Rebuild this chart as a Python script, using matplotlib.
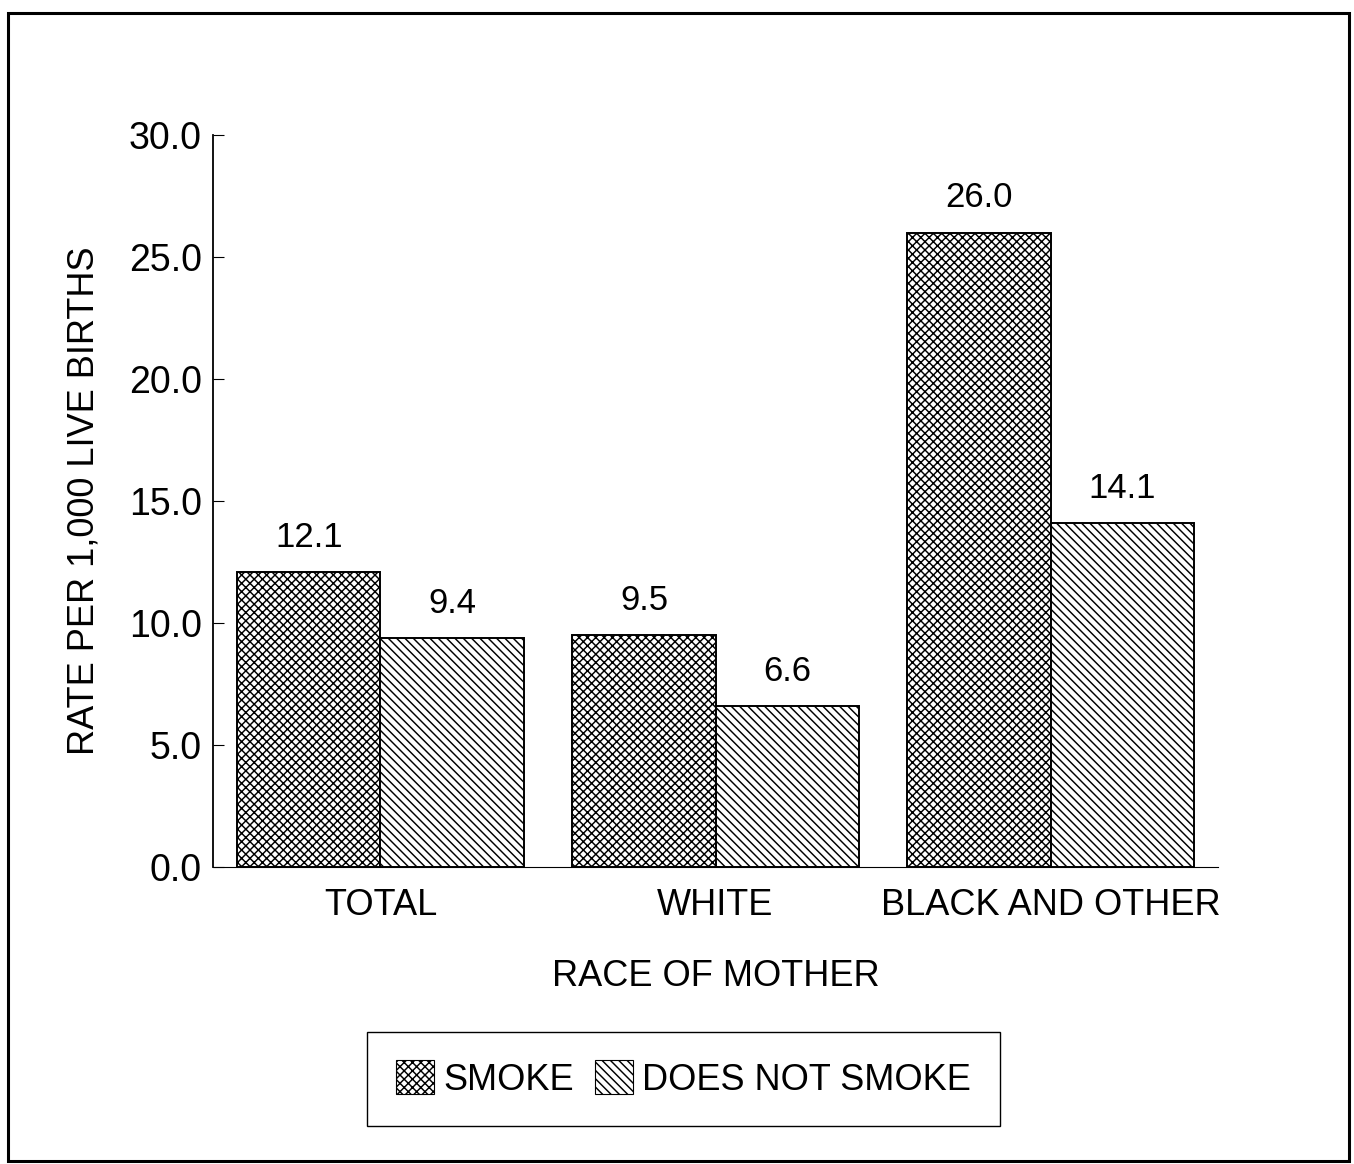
import numpy as np
import matplotlib
matplotlib.use("Agg")
import matplotlib.pyplot as plt
from matplotlib.patches import Patch, Rectangle

# Dødsrate per 1000 levendefødte etter mors rase og røyking
kategorier = ["TOTAL", "WHITE", "BLACK AND OTHER"]
royker = [12.1, 9.5, 26.0]
royker_ikke = [9.4, 6.6, 14.1]
y_ticks = [0.0, 5.0, 10.0, 15.0, 20.0, 25.0, 30.0]

plt.rcParams["font.family"] = ["Liberation Sans", "DejaVu Sans"]
plt.rcParams["hatch.linewidth"] = 1.05

fig = plt.figure(figsize=(13.54, 11.64), dpi=100)
ax = fig.add_axes([0.1573, 0.2552, 0.7423, 0.6289])

x = np.arange(len(kategorier))
w = 0.427
kryss = "xxxx"
skraa = "\\\\\\\\"

s1 = ax.bar(x - w / 2, royker, w, color="white", edgecolor="black",
            linewidth=1.4, hatch=kryss)
s2 = ax.bar(x + w / 2, royker_ikke, w, color="white", edgecolor="black",
            linewidth=1.4, hatch=skraa)

# Verdier over søylene
for bars, verdier in [(s1, royker), (s2, royker_ikke)]:
    for b, v in zip(bars, verdier):
        ax.annotate(f"{v:.1f}", (b.get_x() + b.get_width() / 2, v),
                    xytext=(0, 13), textcoords="offset points",
                    ha="center", va="bottom", fontsize=25)

ax.set_xlim(-0.5, 2.5)
ax.set_ylim(0, 30)
ax.set_yticks(y_ticks)
ax.set_yticklabels([f"{t:.1f}" for t in y_ticks], fontsize=27)
ax.set_xticks(x)
ax.set_xticklabels(kategorier, fontsize=26)
ax.tick_params(axis="y", direction="in", length=8, width=0.8, pad=8)
ax.tick_params(axis="x", length=0, pad=15)

ax.spines["top"].set_visible(False)
ax.spines["right"].set_visible(False)
ax.spines["left"].set_linewidth(1.3)
ax.spines["bottom"].set_linewidth(0.8)

ax.set_ylabel("RATE PER 1,000 LIVE BIRTHS", fontsize=26, labelpad=20)
ax.set_xlabel("RACE OF MOTHER", fontsize=26, labelpad=26)

# Tegnforklaring nederst
handles = [Patch(facecolor="white", edgecolor="black", hatch=kryss, linewidth=0.8),
           Patch(facecolor="white", edgecolor="black", hatch=skraa, linewidth=0.8)]
leg = fig.legend(handles, ["SMOKE", "DOES NOT SMOKE"], ncol=2, fontsize=26,
                 loc="center", bbox_to_anchor=(0.505, 0.073),
                 handlelength=1.05, handleheight=1.05, handletextpad=0.25,
                 columnspacing=0.6, borderpad=0.8, fancybox=False,
                 edgecolor="black", framealpha=1)
leg.get_frame().set_linewidth(1.0)

# Ramme rundt hele figuren
fig.patches.append(Rectangle((0.006, 0.003), 0.990, 0.986, transform=fig.transFigure,
                             fill=False, edgecolor="black", linewidth=2.2))

plt.savefig("out.png", dpi=100)
